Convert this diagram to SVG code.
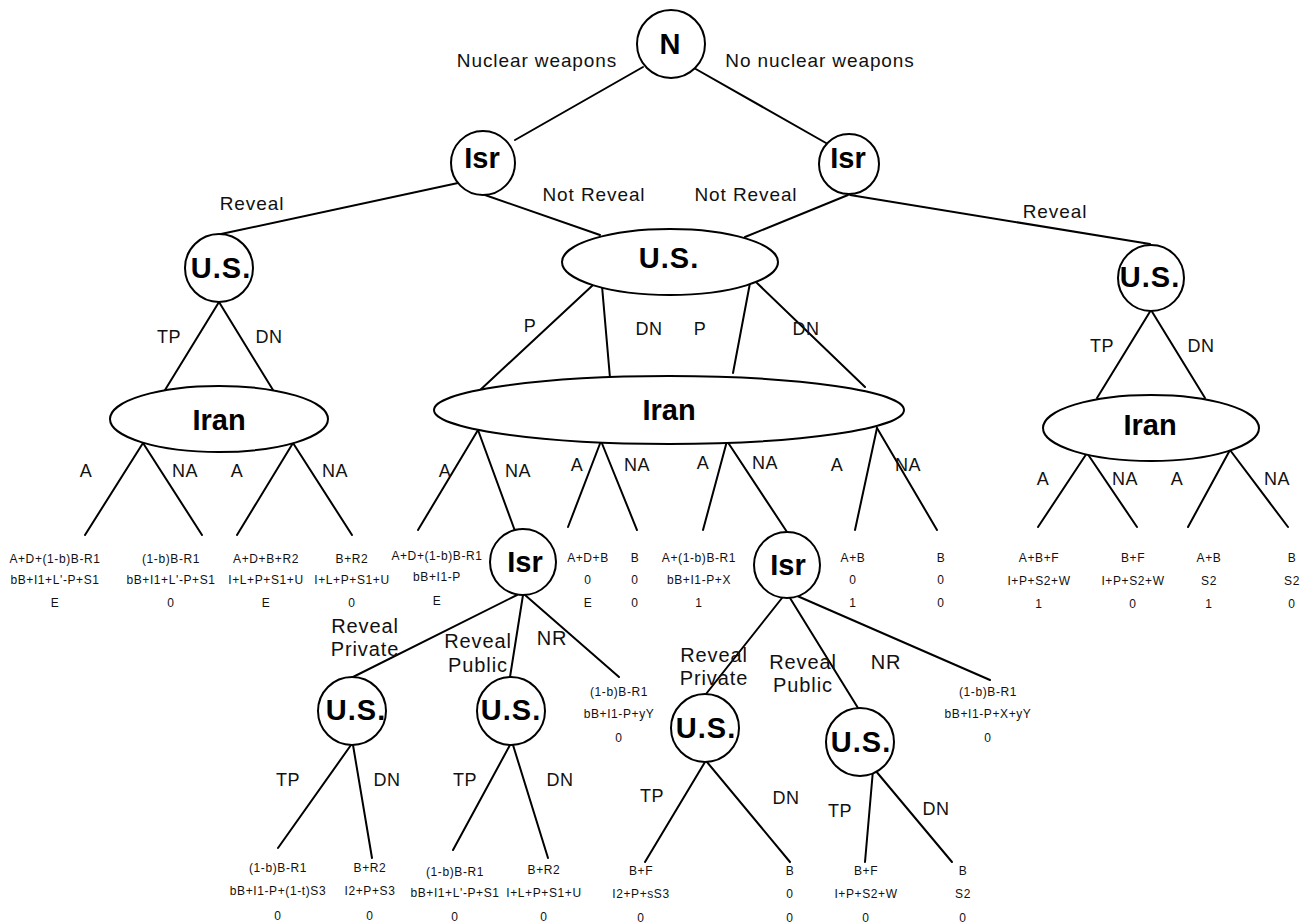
<svg xmlns="http://www.w3.org/2000/svg" width="1311" height="924" viewBox="0 0 1311 924">
<style>
  .edge { stroke: #000; stroke-width: 2; fill: none; stroke-linecap: round; }
  .node { fill: #fff; stroke: #000; stroke-width: 2; }
  .nl { font-family: "Liberation Sans", Arial, sans-serif; font-weight: bold; font-size: 29px; text-anchor: middle; fill: #000; }
  .us { letter-spacing: 1px; }
  .el { font-family: "Liberation Sans", Arial, sans-serif; font-size: 18px; text-anchor: middle; fill: #111; letter-spacing: 0.5px; }
  .bl { font-family: "Liberation Sans", Arial, sans-serif; font-size: 19px; text-anchor: middle; fill: #111; letter-spacing: 0.9px; }
  .pf { font-family: "Liberation Sans", Arial, sans-serif; font-size: 12px; text-anchor: middle; fill: #111; letter-spacing: 0.6px; }
</style>
<rect width="1311" height="924" fill="#fff"/>

<!-- connectors -->
<g id="connectors" class="edge">
  <line x1="643" y1="67" x2="515" y2="140"/>
  <line x1="694" y1="68" x2="826" y2="143"/>
  <line x1="458" y1="183" x2="221" y2="234"/>
  <line x1="485" y1="195" x2="600" y2="235"/>
  <line x1="848" y1="195" x2="745" y2="237"/>
  <line x1="850" y1="195" x2="1150" y2="244"/>
  <line x1="593" y1="285" x2="478" y2="392"/>
  <line x1="602" y1="286" x2="610" y2="378"/>
  <line x1="750" y1="283" x2="733" y2="373"/>
  <line x1="757" y1="283" x2="865" y2="387"/>
  <line x1="219" y1="302" x2="165" y2="390"/>
  <line x1="219" y1="302" x2="273" y2="390"/>
  <line x1="143" y1="443" x2="85" y2="535"/>
  <line x1="143" y1="443" x2="202" y2="535"/>
  <line x1="293" y1="443" x2="237" y2="535"/>
  <line x1="293" y1="443" x2="352" y2="535"/>
  <line x1="1151" y1="310" x2="1097" y2="398"/>
  <line x1="1151" y1="310" x2="1205" y2="398"/>
  <line x1="1087" y1="453" x2="1038" y2="527"/>
  <line x1="1087" y1="453" x2="1137" y2="527"/>
  <line x1="1230" y1="450" x2="1188" y2="527"/>
  <line x1="1230" y1="450" x2="1288" y2="527"/>
  <line x1="478" y1="430" x2="418" y2="530"/>
  <line x1="478" y1="430" x2="515" y2="531"/>
  <line x1="601" y1="441" x2="568" y2="527"/>
  <line x1="601" y1="441" x2="637" y2="530"/>
  <line x1="727" y1="441" x2="703" y2="530"/>
  <line x1="727" y1="441" x2="787" y2="532"/>
  <line x1="877" y1="428" x2="855" y2="530"/>
  <line x1="877" y1="428" x2="937" y2="530"/>
  <line x1="517" y1="595" x2="353" y2="677"/>
  <line x1="523" y1="595" x2="510" y2="677"/>
  <line x1="525" y1="595" x2="619" y2="677"/>
  <line x1="351" y1="745" x2="278" y2="848"/>
  <line x1="353" y1="745" x2="372" y2="858"/>
  <line x1="510" y1="745" x2="453" y2="850"/>
  <line x1="513" y1="745" x2="548" y2="858"/>
  <line x1="782" y1="598" x2="706" y2="694"/>
  <line x1="790" y1="598" x2="858" y2="708"/>
  <line x1="795" y1="595" x2="990" y2="680"/>
  <line x1="705" y1="762" x2="645" y2="862"/>
  <line x1="707" y1="762" x2="790" y2="862"/>
  <line x1="873" y1="770" x2="865" y2="862"/>
  <line x1="875" y1="770" x2="952" y2="862"/>
</g>

<!-- branch labels -->
<g id="branch-labels">
  <text class="bl" x="537" y="67">Nuclear weapons</text>
  <text class="bl" x="820" y="67">No nuclear weapons</text>
  <text class="bl" x="252" y="210">Reveal</text>
  <text class="bl" x="594" y="201">Not Reveal</text>
  <text class="bl" x="746" y="201">Not Reveal</text>
  <text class="bl" x="1055" y="218">Reveal</text>
  <text class="el" x="530" y="332">P</text>
  <text class="el" x="649" y="335">DN</text>
  <text class="el" x="700" y="335">P</text>
  <text class="el" x="806" y="335">DN</text>
  <text class="el" x="169" y="343">TP</text>
  <text class="el" x="269" y="343">DN</text>
  <text class="el" x="86" y="477">A</text>
  <text class="el" x="185" y="477">NA</text>
  <text class="el" x="237" y="477">A</text>
  <text class="el" x="335" y="477">NA</text>
  <text class="el" x="1102" y="352">TP</text>
  <text class="el" x="1201" y="352">DN</text>
  <text class="el" x="1043" y="485">A</text>
  <text class="el" x="1125" y="485">NA</text>
  <text class="el" x="1177" y="485">A</text>
  <text class="el" x="1277" y="485">NA</text>
  <text class="el" x="445" y="477">A</text>
  <text class="el" x="518" y="477">NA</text>
  <text class="el" x="577" y="471">A</text>
  <text class="el" x="637" y="471">NA</text>
  <text class="el" x="703" y="469">A</text>
  <text class="el" x="765" y="469">NA</text>
  <text class="el" x="837" y="471">A</text>
  <text class="el" x="908" y="471">NA</text>
  <text class="bl" x="365" y="633" style="font-size:20px">Reveal</text>
  <text class="bl" x="365" y="656" style="font-size:20px">Private</text>
  <text class="bl" x="478" y="648" style="font-size:20px">Reveal</text>
  <text class="bl" x="478" y="672" style="font-size:20px">Public</text>
  <text class="bl" x="552" y="645" style="font-size:20px">NR</text>
  <text class="bl" x="714" y="662" style="font-size:20px">Reveal</text>
  <text class="bl" x="714" y="685" style="font-size:20px">Private</text>
  <text class="bl" x="803" y="669" style="font-size:20px">Reveal</text>
  <text class="bl" x="803" y="692" style="font-size:20px">Public</text>
  <text class="bl" x="886" y="669" style="font-size:20px">NR</text>
  <text class="el" x="288" y="786">TP</text>
  <text class="el" x="387" y="786">DN</text>
  <text class="el" x="465" y="786">TP</text>
  <text class="el" x="560" y="786">DN</text>
  <text class="el" x="652" y="802">TP</text>
  <text class="el" x="786" y="804">DN</text>
  <text class="el" x="840" y="817">TP</text>
  <text class="el" x="936" y="815">DN</text>
</g>

<!-- nodes -->
<g id="node-N"><circle class="node" cx="671" cy="44" r="34"/><text class="nl" x="670" y="54">N</text></g>
<g id="node-isr-nuclear"><circle class="node" cx="483" cy="163" r="32"/><text class="nl" x="482" y="168">Isr</text></g>
<g id="node-isr-no-nuclear"><circle class="node" cx="849" cy="164" r="30"/><text class="nl" x="848" y="168">Isr</text></g>
<g id="node-us-left"><circle class="node" cx="219" cy="268" r="34"/><text class="nl us" x="221" y="278">U.S.</text></g>
<g id="node-us-mid"><ellipse class="node" cx="670" cy="262" rx="108" ry="33"/><text class="nl us" x="669" y="268">U.S.</text></g>
<g id="node-us-right"><circle class="node" cx="1151" cy="278" r="33"/><text class="nl us" x="1150" y="287">U.S.</text></g>
<g id="node-iran-left"><ellipse class="node" cx="219" cy="419" rx="109" ry="33"/><text class="nl" x="219" y="430">Iran</text></g>
<g id="node-iran-mid"><ellipse class="node" cx="669" cy="410" rx="235" ry="34"/><text class="nl" x="669" y="420">Iran</text></g>
<g id="node-iran-right"><ellipse class="node" cx="1151" cy="428" rx="108" ry="33"/><text class="nl" x="1150" y="435">Iran</text></g>
<g id="node-isr-mid-left"><circle class="node" cx="523" cy="562" r="33"/><text class="nl" x="525" y="572">Isr</text></g>
<g id="node-isr-mid-right"><circle class="node" cx="787" cy="565" r="33"/><text class="nl" x="788" y="575">Isr</text></g>
<g id="node-us-private-1"><circle class="node" cx="352" cy="711" r="34"/><text class="nl us" x="356" y="720">U.S.</text></g>
<g id="node-us-public-1"><circle class="node" cx="511" cy="711" r="34"/><text class="nl us" x="511" y="720">U.S.</text></g>
<g id="node-us-private-2"><circle class="node" cx="705" cy="728" r="34"/><text class="nl us" x="706" y="738">U.S.</text></g>
<g id="node-us-public-2"><circle class="node" cx="860" cy="742" r="34"/><text class="nl us" x="861" y="752">U.S.</text></g>

<!-- payoffs -->
<g id="payoffs" class="pf">
  <text x="55" y="563">A+D+(1-b)B-R1</text><text x="55" y="584">bB+I1+L'-P+S1</text><text x="55" y="607">E</text>
  <text x="171" y="563">(1-b)B-R1</text><text x="171" y="584">bB+I1+L'-P+S1</text><text x="171" y="607">0</text>
  <text x="266" y="563">A+D+B+R2</text><text x="266" y="584">I+L+P+S1+U</text><text x="266" y="607">E</text>
  <text x="352" y="563">B+R2</text><text x="352" y="584">I+L+P+S1+U</text><text x="352" y="607">0</text>
  <text x="437" y="560">A+D+(1-b)B-R1</text><text x="437" y="581">bB+I1-P</text><text x="437" y="605">E</text>
  <text x="588" y="562">A+D+B</text><text x="588" y="584">0</text><text x="588" y="607">E</text>
  <text x="635" y="562">B</text><text x="635" y="584">0</text><text x="635" y="607">0</text>
  <text x="699" y="562">A+(1-b)B-R1</text><text x="699" y="584">bB+I1-P+X</text><text x="699" y="607">1</text>
  <text x="853" y="562">A+B</text><text x="853" y="584">0</text><text x="853" y="607">1</text>
  <text x="941" y="562">B</text><text x="941" y="584">0</text><text x="941" y="607">0</text>
  <text x="1039" y="562">A+B+F</text><text x="1039" y="585">I+P+S2+W</text><text x="1039" y="608">1</text>
  <text x="1133" y="562">B+F</text><text x="1133" y="585">I+P+S2+W</text><text x="1133" y="608">0</text>
  <text x="1209" y="562">A+B</text><text x="1209" y="585">S2</text><text x="1209" y="608">1</text>
  <text x="1292" y="562">B</text><text x="1292" y="585">S2</text><text x="1292" y="608">0</text>
  <text x="619" y="696">(1-b)B-R1</text><text x="619" y="718">bB+I1-P+yY</text><text x="619" y="742">0</text>
  <text x="988" y="696">(1-b)B-R1</text><text x="988" y="718">bB+I1-P+X+yY</text><text x="988" y="742">0</text>
  <text x="278" y="872">(1-b)B-R1</text><text x="278" y="895">bB+I1-P+(1-t)S3</text><text x="278" y="920">0</text>
  <text x="370" y="872">B+R2</text><text x="370" y="895">I2+P+S3</text><text x="370" y="920">0</text>
  <text x="455" y="876">(1-b)B-R1</text><text x="455" y="897">bB+I1+L'-P+S1</text><text x="455" y="921">0</text>
  <text x="544" y="874">B+R2</text><text x="544" y="897">I+L+P+S1+U</text><text x="544" y="921">0</text>
  <text x="641" y="875">B+F</text><text x="641" y="898">I2+P+sS3</text><text x="641" y="922">0</text>
  <text x="790" y="875">B</text><text x="790" y="898">0</text><text x="790" y="922">0</text>
  <text x="866" y="875">B+F</text><text x="866" y="898">I+P+S2+W</text><text x="866" y="922">0</text>
  <text x="963" y="875">B</text><text x="963" y="898">S2</text><text x="963" y="922">0</text>
</g>
</svg>
